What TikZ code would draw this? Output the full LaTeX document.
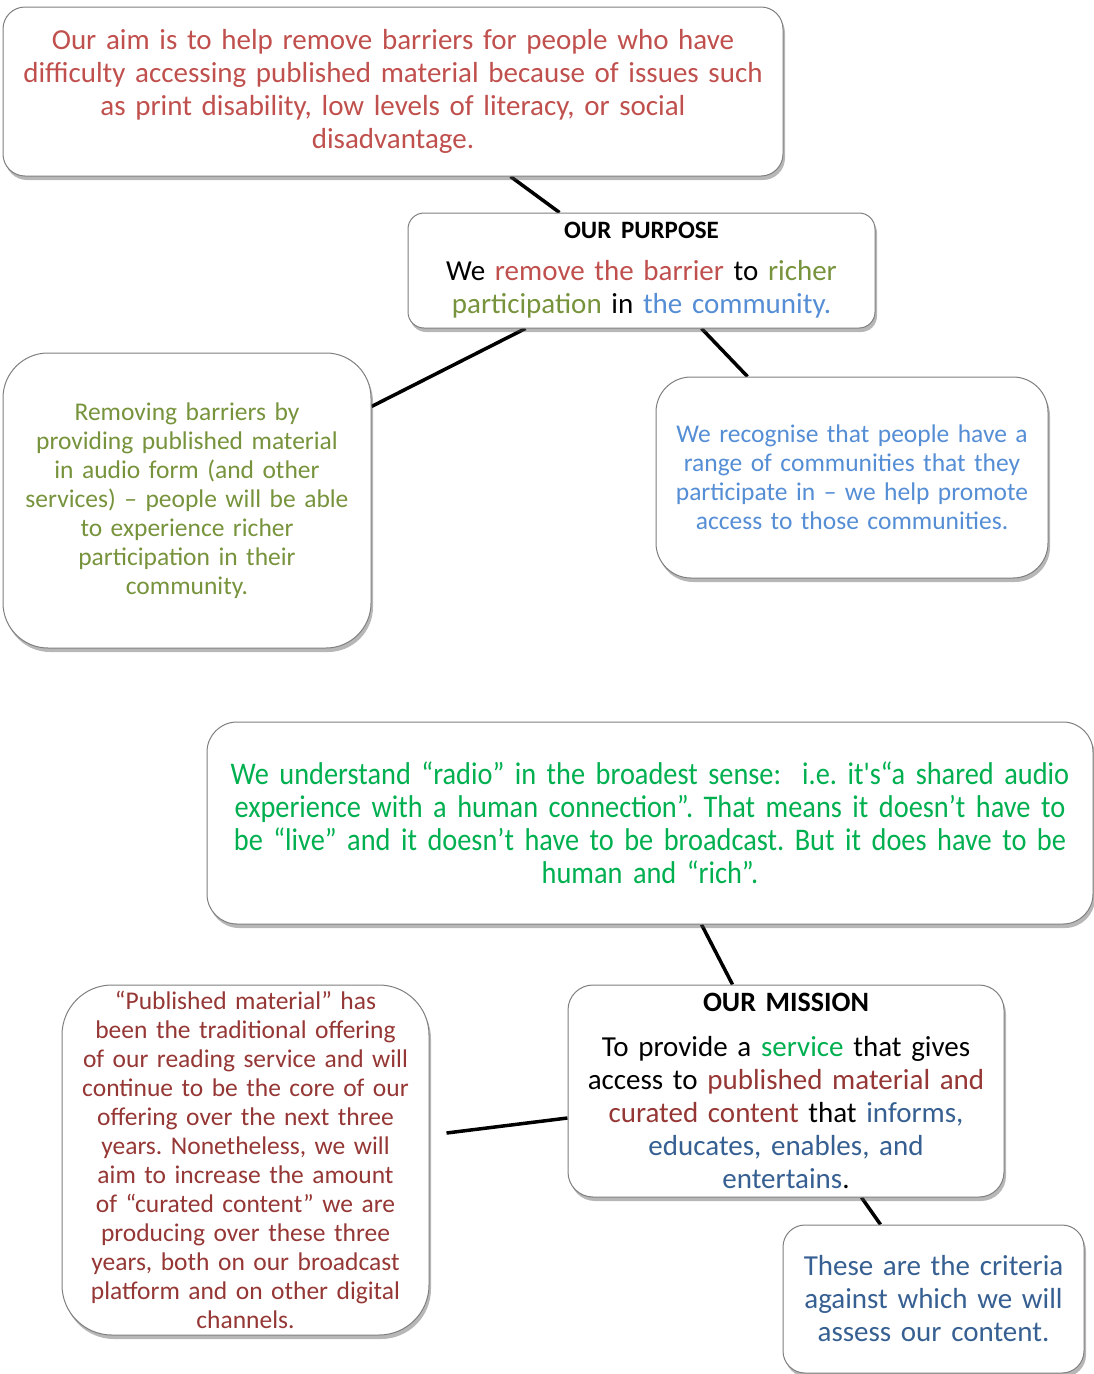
\documentclass[tikz,border=0pt]{standalone}
\usepackage{fontspec}
\setmainfont{Carlito}[WordSpace=0.65]
\newfontfamily\condfont{Carlito}[FakeStretch=0.9, WordSpace=0.6, Ligatures=TeXOff]
\usetikzlibrary{shadows,backgrounds}
\definecolor{cred}{HTML}{C0504D}
\definecolor{colive}{HTML}{77933C}
\definecolor{clblue}{HTML}{558ED5}
\definecolor{cgreen}{HTML}{00B050}
\definecolor{cdred}{HTML}{953735}
\definecolor{cdblue}{HTML}{376092}
\definecolor{boxgray}{HTML}{7F7F7F}
\tikzset{
  box/.style={draw=boxgray, line width=1pt, fill=white, rounded corners=#1,
    drop shadow={shadow xshift=2pt, shadow yshift=-4pt, opacity=0.4, fill=black!70},
    align=center, inner sep=0pt},
  link/.style={line width=3.5pt, draw=black},
  fbig/.style={font=\frenchspacing\fontsize{29}{33}\selectfont},
  fsmall/.style={font=\frenchspacing\fontsize{25.5}{29}\selectfont},
}
\begin{document}
\begin{tikzpicture}[x=1pt,y=-1pt]
\useasboundingbox (0,0) rectangle (1094,1374);

\node[box=22pt, fbig, text=cred, minimum width=780pt, minimum height=169pt, text width=770pt] (top) at (393,91.5)
 {Our aim is to help remove barriers for people who have\\
  difficulty accessing published material because of issues such\\
  as print disability, low levels of literacy, or social\\
  disadvantage.};

\node[box=16pt, fbig, minimum width=467pt, minimum height=115pt, text width=460pt] (purpose) at (641.5,270.5)
 {{\fontsize{25}{29}\selectfont\bfseries OUR PURPOSE}\\[9pt]
  We \textcolor{cred}{remove the barrier} to \textcolor{colive}{richer}\\
  \textcolor{colive}{participation} in \textcolor{clblue}{the community.}};

\node[box=45pt, fsmall, text=colive, minimum width=368pt, minimum height=295pt, text width=360pt] (left) at (187,500.5)
 {Removing barriers by\\
  providing published material\\
  in audio form (and other\\
  services) -- people will be able\\
  to experience richer\\
  participation in their\\
  community.};

\node[box=35pt, fsmall, text=clblue, minimum width=392pt, minimum height=201pt, text width=385pt] (blue) at (852,477.5)
 {We recognise that people have a\\
  range of communities that they\\
  participate in -- we help promote\\
  access to those communities.};

\node[box=30pt, font=\frenchspacing\condfont\fontsize{31.5}{33}\selectfont, text=cgreen, minimum width=886pt, minimum height=202pt, text width=880pt] (radio) at (650,823)
 {We understand “radio” in the broadest sense:\ \ i.e. it's“a shared audio\\
  experience with a human connection”. That means it doesn’t have to\\
  be “live” and it doesn’t have to be broadcast. But it does have to be\\
  human and “rich”.};

\node[box=50pt, fsmall, text=cdred, minimum width=367pt, minimum height=350pt, text width=362pt] (pub) at (245.5,1160)
 {“Published material” has\\
  been the traditional offering\\
  of our reading service and will\\
  continue to be the core of our\\
  offering over the next three\\
  years. Nonetheless, we will\\
  aim to increase the amount\\
  of “curated content” we are\\
  producing over these three\\
  years, both on our broadcast\\
  platform and on other digital\\
  channels.};

\node[box=25pt, fbig, minimum width=436pt, minimum height=212pt, text width=430pt] (mission) at (786,1091)
 {{\fontsize{28}{30}\selectfont\bfseries OUR MISSION}\\[12pt]
  To provide a \textcolor{cgreen}{service} that gives\\
  access to \textcolor{cdred}{published material and}\\
  \textcolor{cdred}{curated content} that \textcolor{cdblue}{informs,}\\
  \textcolor{cdblue}{educates, enables, and}\\
  \textcolor{cdblue}{entertains}.};

\node[box=22pt, fbig, text=cdblue, minimum width=301pt, minimum height=148pt, text width=295pt] (crit) at (933.5,1299)
 {These are the criteria\\
  against which we will\\
  assess our content.};

\begin{scope}[on background layer]
\draw[link] ([xshift=508pt]top.south west) -- ([xshift=152pt]purpose.north west);
\draw[link] ([xshift=118pt]purpose.south west) -- ([yshift=-54pt]left.north east);
\draw[link] ([xshift=294pt]purpose.south west) -- ([xshift=92pt]blue.north west);
\draw[link] ([xshift=495pt]radio.south west) -- ([xshift=165pt]mission.north west);
\coordinate (pubend) at ([xshift=17pt,yshift=27pt]pub.east);
\draw[link] (pubend) -- ([yshift=-27pt]mission.west);
\draw[link] ([xshift=294pt]mission.south west) -- ([xshift=98pt]crit.north west);
\end{scope}
\end{tikzpicture}
\end{document}
